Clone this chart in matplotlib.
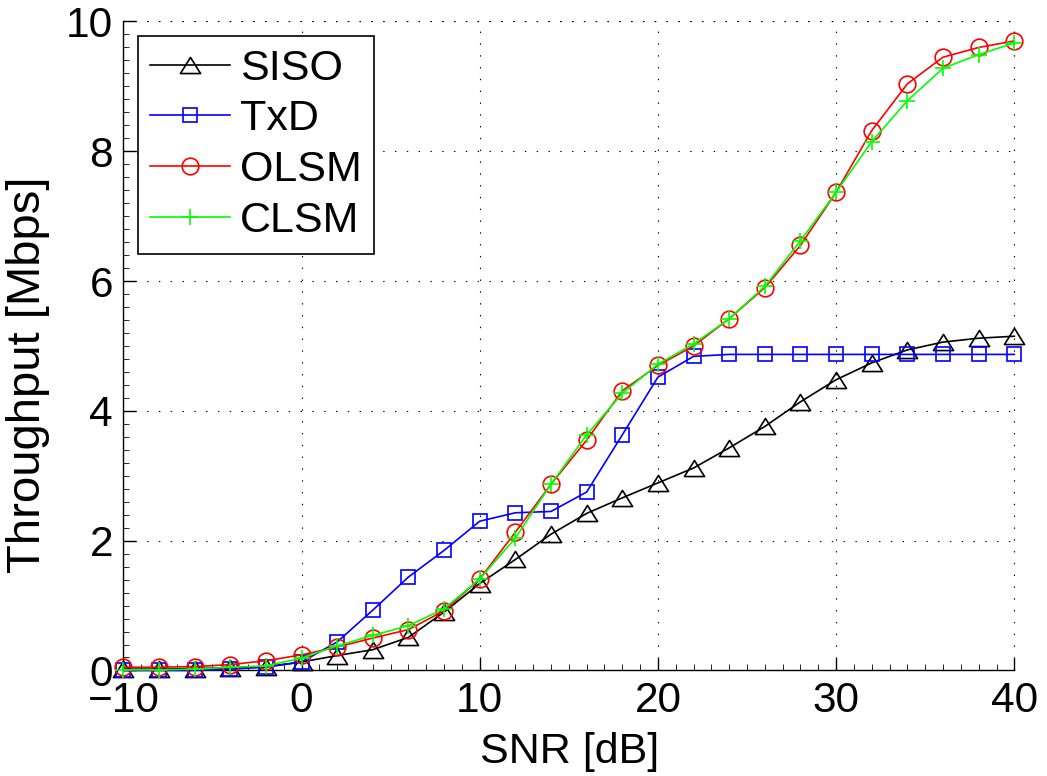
import matplotlib
matplotlib.use("Agg")
import matplotlib.pyplot as plt
from matplotlib.path import Path
from matplotlib.ticker import MultipleLocator

plt.rcParams['font.family'] = ['Liberation Sans', 'DejaVu Sans']
plt.rcParams['lines.scale_dashes'] = False

snr = [-10, -8, -6, -4, -2, 0, 2, 4, 6, 8, 10, 12, 14, 16, 18, 20,
       22, 24, 26, 28, 30, 32, 34, 36, 38, 40]

siso = [0.02, 0.02, 0.03, 0.04, 0.06, 0.13, 0.23, 0.32, 0.51, 0.90, 1.34, 1.71,
        2.10, 2.42, 2.66, 2.89, 3.12, 3.43, 3.76, 4.14, 4.48, 4.74, 4.94, 5.06, 5.12, 5.15]
txd = [0.00, 0.00, 0.00, 0.02, 0.05, 0.13, 0.44, 0.93, 1.44, 1.85, 2.30, 2.43,
       2.45, 2.75, 3.63, 4.52, 4.84, 4.87, 4.87, 4.87, 4.87, 4.87, 4.87, 4.87, 4.87, 4.87]
olsm = [0.05, 0.05, 0.06, 0.09, 0.15, 0.24, 0.36, 0.50, 0.63, 0.92, 1.41, 2.13,
        2.87, 3.55, 4.31, 4.70, 5.00, 5.42, 5.90, 6.55, 7.37, 8.32, 9.04, 9.45, 9.60, 9.70]
clsm = [0.01, 0.01, 0.02, 0.05, 0.07, 0.19, 0.38, 0.54, 0.69, 0.95, 1.41, 2.04,
        2.87, 3.63, 4.27, 4.72, 5.03, 5.42, 5.92, 6.62, 7.37, 8.15, 8.78, 9.28, 9.49, 9.67]

labels = ['SISO', 'TxD', 'OLSM', 'CLSM']
xticks = [-10, 0, 10, 20, 30, 40]
xticklabels = ['\u221210', '0', '10', '20', '30', '40']

# wide, flat triangle like MATLAB's '^'
tri = Path([(-1, -0.8), (1, -0.8), (0, 0.8), (-1, -0.8)],
           [Path.MOVETO, Path.LINETO, Path.LINETO, Path.CLOSEPOLY])

fig = plt.figure(figsize=(10.47, 7.76), dpi=100)
ax = fig.add_axes([0.1178, 0.1360, 0.9688 - 0.1178, 0.9723 - 0.1360])

lw = 1.2
mew = 1.2
common = dict(lw=lw, mfc='none', mew=mew, clip_on=False, zorder=3)
ax.plot(snr, siso, color='k', marker=tri, ms=14.5, label=labels[0], **common)
ax.plot(snr, txd, color=(0, 0, 1), marker='s', ms=10, label=labels[1], **common)
ax.plot(snr, olsm, color=(1, 0, 0), marker='o', ms=12, label=labels[2], **common)
ax.plot(snr, clsm, color=(0, 1, 0), marker='+', ms=12, label=labels[3], **common)

ax.set_xlim(-10, 40)
ax.set_ylim(0, 10)
ax.set_xticks(xticks)
ax.set_xticklabels(xticklabels)
ax.yaxis.set_major_locator(MultipleLocator(2))
ax.xaxis.set_minor_locator(MultipleLocator(1))
ax.yaxis.set_minor_locator(MultipleLocator(0.2))

ax.tick_params(which='major', direction='in', length=9, width=1, labelsize=30.5)
ax.tick_params(axis='x', which='major', pad=7.8)
ax.tick_params(axis='y', which='major', pad=7.5)
ax.tick_params(which='minor', direction='in', length=4, width=0.6)
ax.tick_params(top=False, right=False, which='both')

dots = (0, (1, 7.5))
ax.grid(True, which='major', color='k', linestyle=dots, linewidth=0.8)
ax.set_axisbelow(True)
ax.spines['top'].set_visible(False)
ax.spines['right'].set_visible(False)
for s in ('left', 'bottom'):
    ax.spines[s].set_linewidth(1.0)
# dotted borders along the top and right edges
ax.axhline(10, color='k', linestyle=dots, linewidth=0.8, clip_on=False, zorder=1)
ax.axvline(40, color='k', linestyle=dots, linewidth=0.8, clip_on=False, zorder=1)

ax.set_xlabel('SNR [dB]', fontsize=31)
ax.xaxis.set_label_coords(0.501, -0.095, transform=ax.transAxes)
ax.xaxis.label.set_va('top')
ax.set_ylabel('Throughput [Mbps]', fontsize=34)
ax.yaxis.set_label_coords(-0.107, 0.455, transform=ax.transAxes)
ax.yaxis.label.set_va('center')

leg = ax.legend(loc='upper left', fontsize=31, numpoints=1, handlelength=1.85,
                handletextpad=0.22, labelspacing=0.25, borderaxespad=0.33,
                borderpad=0.3, fancybox=False, framealpha=1, edgecolor='k')
leg.get_frame().set_linewidth(1.2)
leg.set_zorder(5)

fig.savefig('out.png', dpi=100)
